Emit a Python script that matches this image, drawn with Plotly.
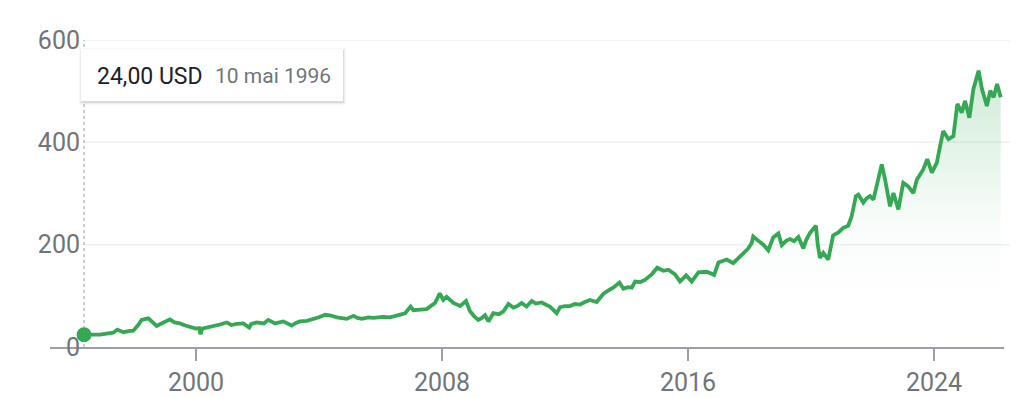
import plotly.graph_objects as go

# ---- data ----
years = [
    1996.36, 1996.6, 1996.88, 1997.2, 1997.31, 1997.44, 1997.64, 1997.8, 1997.96, 1998.12,
    1998.23, 1998.45, 1998.61, 1998.72, 1998.88, 1999.15, 1999.3, 1999.48, 1999.65, 1999.86,
    2000.0, 2000.1, 2000.15, 2000.2, 2000.35, 2000.62, 2000.78, 2001.0, 2001.15, 2001.32,
    2001.54, 2001.73, 2001.8, 2001.97, 2002.2, 2002.35, 2002.57, 2002.84, 2003.0, 2003.11,
    2003.25, 2003.38, 2003.6, 2003.81, 2004.0, 2004.2, 2004.35, 2004.58, 2004.9, 2005.12,
    2005.25, 2005.39, 2005.6, 2005.77, 2006.09, 2006.31, 2006.53, 2006.8, 2006.98, 2007.07,
    2007.3, 2007.5, 2007.77, 2007.93, 2008.04, 2008.15, 2008.37, 2008.59, 2008.78, 2008.91,
    2009.05, 2009.18, 2009.3, 2009.4, 2009.51, 2009.6, 2009.67, 2009.85, 2009.99, 2010.16,
    2010.32, 2010.45, 2010.59, 2010.75, 2010.92, 2011.05, 2011.24, 2011.4, 2011.51, 2011.73,
    2011.84, 2012.0, 2012.16, 2012.32, 2012.49, 2012.65, 2012.81, 2013.03, 2013.25, 2013.4,
    2013.57, 2013.77, 2013.9, 2014.05, 2014.17, 2014.28, 2014.45, 2014.6, 2014.82, 2015.0,
    2015.2, 2015.36, 2015.58, 2015.74, 2015.94, 2016.12, 2016.34, 2016.61, 2016.85, 2016.99,
    2017.15, 2017.26, 2017.47, 2017.65, 2017.8, 2017.95, 2018.07, 2018.12, 2018.34, 2018.45,
    2018.61, 2018.77, 2018.94, 2019.05, 2019.2, 2019.32, 2019.45, 2019.59, 2019.75, 2019.85,
    2019.97, 2020.16, 2020.22, 2020.29, 2020.4, 2020.5, 2020.56, 2020.72, 2020.89, 2021.05,
    2021.21, 2021.32, 2021.46, 2021.54, 2021.7, 2021.8, 2021.92, 2022.03, 2022.14, 2022.3,
    2022.41, 2022.57, 2022.68, 2022.84, 2023.0, 2023.16, 2023.33, 2023.44, 2023.65, 2023.78,
    2023.93, 2024.09, 2024.2, 2024.3, 2024.47, 2024.63, 2024.76, 2024.9, 2025.01, 2025.15,
    2025.28, 2025.45, 2025.56, 2025.72, 2025.83, 2025.94, 2026.05, 2026.17,
]
prices = [
    24, 24, 24, 27, 28, 34, 29, 31, 32, 43,
    53, 56, 46, 41, 46, 54, 48, 46, 42, 38,
    36, 37, 25, 36, 38, 40, 44, 48, 43, 45,
    46, 38, 45, 48, 46, 53, 46, 50, 46, 42,
    47, 50, 51, 54, 58, 63, 62, 58, 55, 61,
    57, 55, 58, 57, 59, 58, 61, 66, 79, 72,
    73, 74, 86, 105, 92, 98, 86, 80, 90, 70,
    60, 53, 57, 62, 50, 58, 66, 64, 69, 84,
    77, 80, 86, 79, 90, 85, 87, 82, 79, 66,
    78, 80, 80, 84, 83, 88, 92, 88, 104, 110,
    116, 126, 114, 117, 116, 128, 127, 131, 142, 155,
    149, 151, 142, 128, 140, 128, 146, 147, 141, 165,
    168, 171, 164, 175, 184, 192, 203, 216, 205, 200,
    189, 214, 222, 199, 208, 211, 207, 215, 193, 210,
    223, 237, 200, 174, 184, 176, 171, 218, 224, 233,
    237, 255, 295, 298, 282, 290, 295, 288, 314, 357,
    327, 275, 301, 269, 321, 314, 301, 327, 347, 367,
    341, 360, 393, 422, 406, 412, 475, 458, 481, 448,
    504, 540, 504, 471, 501, 488, 514, 488,
]
tick_years = [2000, 2008, 2016, 2024]
tick_labels = ["2000", "2008", "2016", "2024"]
y_ticks = [0, 200, 400, 600]
y_tick_labels = ["0", "200", "400", "600"]
tooltip_date = "10 mai 1996"
currency = "USD"

# ---- styling / layout helpers ----
W, H = 1029, 397
ML, MR, MT, MB = 50, 25, 40, 50
PW, PH = W - ML - MR, H - MT - MB
GREEN = "#34a853"
GRAY_TXT = "#70757a"
FONT = "Roboto, Arial, sans-serif"


def px_x(px):
    return (px - ML) / PW


def px_y(py):
    return 1 - (py - MT) / PH


fig = go.Figure()

fig.add_trace(go.Scatter(
    x=years, y=prices, mode="lines",
    line=dict(color=GREEN, width=3.8),
    fill="tozeroy",
    fillgradient=dict(
        type="vertical",
        colorscale=[[0, "rgba(52,168,83,0)"], [0.35, "rgba(52,168,83,0.03)"],
                    [1, "rgba(52,168,83,0.22)"]],
        start=90, stop=520,
    ),
    hoverinfo="skip", showlegend=False,
))

fig.add_trace(go.Scatter(
    x=[years[0]], y=[prices[0]], mode="markers",
    marker=dict(color=GREEN, size=15),
    hoverinfo="skip", showlegend=False,
))

shapes = []
# grid lines
for v in y_ticks[1:]:
    shapes.append(dict(type="line", xref="paper", yref="y",
                       x0=px_x(83), x1=px_x(1010), y0=v, y1=v,
                       line=dict(color="#f0f0f0", width=1.5), layer="below"))
# dashed hover line
shapes.append(dict(type="line", xref="x", yref="y", x0=years[0], x1=years[0],
                   y0=0, y1=y_ticks[-1],
                   line=dict(color="#9aa0a6", width=1, dash="3px,3px"), layer="below"))
# tooltip box with soft shadow
bx0, by0, bx1, by1 = 81, 49, 343, 101
for off, a in [(3, 0.04), (2, 0.06), (1, 0.10)]:
    shapes.append(dict(type="rect", xref="paper", yref="paper",
                       x0=px_x(bx0 - off + 1), x1=px_x(bx1 + off),
                       y0=px_y(by1 + off + 1), y1=px_y(by0 - off + 2),
                       line=dict(width=0), fillcolor=f"rgba(60,64,67,{a})", layer="above"))
shapes.append(dict(type="rect", xref="paper", yref="paper",
                   x0=px_x(bx0), x1=px_x(bx1), y0=px_y(by1), y1=px_y(by0),
                   line=dict(width=0), fillcolor="white", layer="above"))

price_txt = f"{prices[0]:.2f}".replace(".", ",") + " " + currency
annotations = [
    dict(xref="paper", yref="paper", x=px_x(95), y=px_y(76), xanchor="left", yanchor="middle",
         text=price_txt, showarrow=False, font=dict(family=FONT, size=23, color="#202124")),
    dict(xref="paper", yref="paper", x=px_x(213), y=px_y(76), xanchor="left", yanchor="middle",
         text=tooltip_date, showarrow=False, font=dict(family=FONT, size=21, color=GRAY_TXT)),
]

fig.update_layout(
    width=W, height=H,
    margin=dict(l=ML, r=MR, t=MT, b=MB),
    paper_bgcolor="white", plot_bgcolor="white",
    font=dict(family=FONT, color=GRAY_TXT),
    shapes=shapes, annotations=annotations,
    xaxis=dict(
        range=[2000 - (196 - ML) / 30.75, 2000 + (ML + PW - 196) / 30.75],
        tickmode="array", tickvals=tick_years, ticktext=tick_labels,
        ticks="outside", ticklen=12, tickwidth=1.5, tickcolor="#9aa0a6",
        showline=True, linecolor="#9aa0a6", linewidth=2,
        showgrid=False, zeroline=False, automargin=False,
        tickfont=dict(family=FONT, size=25, color=GRAY_TXT),
    ),
    yaxis=dict(
        range=[0, 600], anchor="free", position=px_x(80),
        tickmode="array", tickvals=y_ticks, ticktext=y_tick_labels,
        showgrid=False, zeroline=False, showline=False, ticks="", automargin=False,
        tickfont=dict(family=FONT, size=25, color=GRAY_TXT),
    ),
)

fig.write_html("out.html")
